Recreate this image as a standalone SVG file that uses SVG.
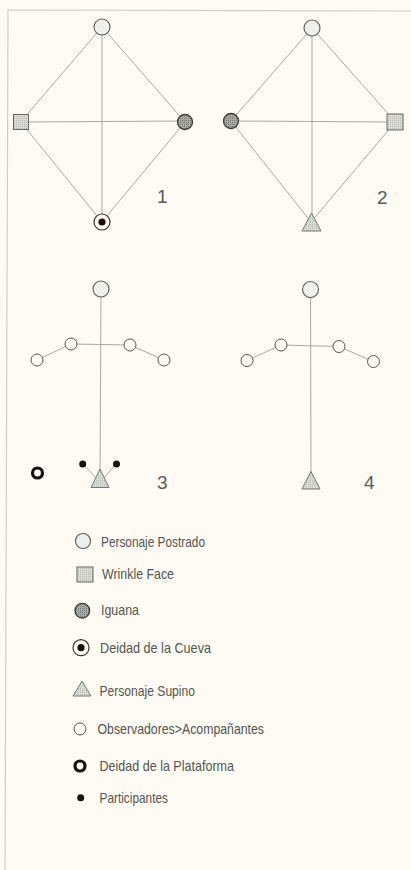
<svg xmlns="http://www.w3.org/2000/svg" width="411" height="870" viewBox="0 0 411 870">
<defs>
<pattern id="dots" width="2" height="2" patternUnits="userSpaceOnUse">
<rect width="2" height="2" fill="#dcdcd6"/>
<rect width="1" height="1" fill="#b8b8b2"/>
</pattern>
<pattern id="dotsDark" width="2" height="2" patternUnits="userSpaceOnUse">
<rect width="2" height="2" fill="#aaaaa4"/>
<rect width="1" height="1" fill="#7a7a76"/>
</pattern>
</defs>
<style>
.ln{stroke:#a9a9a4;stroke-width:1;fill:none}
.frame{stroke:#cfcfca;stroke-width:1.2;fill:none}
.post{fill:#efefeb;stroke:#5a5a58;stroke-width:1.1}
.sq{fill:url(#dots);stroke:#666;stroke-width:1}
.ig{fill:url(#dotsDark);stroke:#3a3a38;stroke-width:1.3}
.cue{fill:#fdfbf3;stroke:#333;stroke-width:1.2}
.cuedot{fill:#1a1010}
.tri{fill:url(#dots);stroke:#777;stroke-width:1}
.obs{fill:#fdfbf3;stroke:#555;stroke-width:1}
.plat{fill:none;stroke:#1a1210;stroke-width:3.2}
.part{fill:#1a1210}
.num{font-family:"Liberation Sans",Arial,sans-serif;font-size:19px;fill:#5a5a58;font-weight:normal}
.lg{font-family:"Liberation Sans",Arial,sans-serif;font-size:14.5px;fill:#555553}
</style>
<rect width="411" height="870" fill="#fdfbf3"/>
<path class="frame" d="M411 11 L8 10 L5 870"/>

<g id="connectors">
<line class="ln" x1="102" y1="27" x2="24" y2="118"/>
<line class="ln" x1="102" y1="27" x2="185" y2="122"/>
<line class="ln" x1="24" y1="126" x2="102" y2="222"/>
<line class="ln" x1="185" y1="122" x2="102" y2="222"/>
<line class="ln" x1="102" y1="27" x2="102" y2="222"/>
<line class="ln" x1="21" y1="122" x2="185" y2="121"/>
<line class="ln" x1="312" y1="28" x2="231" y2="121"/>
<line class="ln" x1="312" y1="28" x2="392" y2="118"/>
<line class="ln" x1="231" y1="121" x2="311" y2="222"/>
<line class="ln" x1="392" y1="126" x2="311" y2="222"/>
<line class="ln" x1="312" y1="28" x2="312" y2="222"/>
<line class="ln" x1="231" y1="121" x2="395" y2="122"/>
<line class="ln" x1="101" y1="289" x2="100" y2="480"/>
<line class="ln" x1="71" y1="344" x2="130" y2="345"/>
<line class="ln" x1="71" y1="344" x2="37" y2="360"/>
<line class="ln" x1="130" y1="345" x2="164" y2="360"/>
<line class="ln" x1="83" y1="464" x2="96" y2="478"/>
<line class="ln" x1="116" y1="464" x2="104" y2="478"/>
<line class="ln" x1="310.5" y1="290" x2="311" y2="480"/>
<line class="ln" x1="281" y1="345" x2="339" y2="346.5"/>
<line class="ln" x1="281" y1="345" x2="247" y2="360.5"/>
<line class="ln" x1="339" y1="346.5" x2="373" y2="361.5"/>
</g>

<g id="d1-top"><circle class="post" cx="102" cy="27" r="8"/></g>
<g id="d1-wrinkle"><rect class="sq" x="13.5" y="114.5" width="15" height="15"/></g>
<g id="d1-iguana"><circle class="ig" cx="185" cy="122" r="7.5"/></g>
<g id="d1-cueva"><circle class="cue" cx="102" cy="222" r="8"/><circle class="cuedot" cx="102" cy="222" r="3.6"/></g>
<g id="label1"><text class="num" x="157" y="203">1</text></g>

<g id="d2-top"><circle class="post" cx="312" cy="28" r="8"/></g>
<g id="d2-iguana"><circle class="ig" cx="231" cy="121" r="7.5"/></g>
<g id="d2-wrinkle"><rect class="sq" x="387" y="114" width="16" height="16"/></g>
<g id="d2-supino"><polygon class="tri" points="311.5,213 302,231 321,231"/></g>
<g id="label2"><text class="num" x="377" y="204">2</text></g>

<g id="d3-top"><circle class="post" cx="101" cy="289" r="8"/></g>
<g id="d3-obs1"><circle class="obs" cx="71" cy="344" r="6"/></g>
<g id="d3-obs2"><circle class="obs" cx="130" cy="345" r="6"/></g>
<g id="d3-obs3"><circle class="obs" cx="37" cy="360" r="6"/></g>
<g id="d3-obs4"><circle class="obs" cx="164" cy="360" r="6"/></g>
<g id="d3-supino"><polygon class="tri" points="100,469 91,487.5 109,487.5"/></g>
<g id="d3-part1"><circle class="part" cx="82.7" cy="464" r="3.5"/></g>
<g id="d3-part2"><circle class="part" cx="116.5" cy="464" r="3.5"/></g>
<g id="d3-plataforma"><circle class="plat" cx="37.5" cy="473" r="5"/></g>
<g id="label3"><text class="num" x="157" y="488.5">3</text></g>

<g id="d4-top"><circle class="post" cx="310.5" cy="289.5" r="8"/></g>
<g id="d4-obs1"><circle class="obs" cx="281" cy="345" r="6"/></g>
<g id="d4-obs2"><circle class="obs" cx="339" cy="346.5" r="6"/></g>
<g id="d4-obs3"><circle class="obs" cx="247" cy="360.5" r="6"/></g>
<g id="d4-obs4"><circle class="obs" cx="373.5" cy="361.5" r="6"/></g>
<g id="d4-supino"><polygon class="tri" points="311,471.5 302,489 320,489"/></g>
<g id="label4"><text class="num" x="364" y="488.5">4</text></g>

<g id="legend">
<g id="lg-postrado"><circle class="post" cx="83" cy="541" r="7.5"/><text class="lg" x="101" y="547" textLength="104" lengthAdjust="spacingAndGlyphs">Personaje Postrado</text></g>
<g id="lg-wrinkle"><rect class="sq" x="77" y="567" width="16" height="15"/><text class="lg" x="102" y="578.5" textLength="72" lengthAdjust="spacingAndGlyphs">Wrinkle Face</text></g>
<g id="lg-iguana"><circle class="ig" cx="82.3" cy="610.7" r="7.3"/><text class="lg" x="101" y="615" textLength="38" lengthAdjust="spacingAndGlyphs">Iguana</text></g>
<g id="lg-cueva"><circle class="cue" cx="81" cy="647.7" r="8"/><circle class="cuedot" cx="81" cy="647.7" r="3.6"/><text class="lg" x="100" y="652.5" textLength="111" lengthAdjust="spacingAndGlyphs">Deidad de la Cueva</text></g>
<g id="lg-supino"><polygon class="tri" points="82,681 73,696 91,696"/><text class="lg" x="99.5" y="696" textLength="95.5" lengthAdjust="spacingAndGlyphs">Personaje Supino</text></g>
<g id="lg-obs"><circle class="obs" cx="80" cy="729" r="6"/><text class="lg" x="97.5" y="733.5" textLength="166.5" lengthAdjust="spacingAndGlyphs">Observadores&gt;Acompañantes</text></g>
<g id="lg-plat"><circle class="plat" cx="80" cy="766" r="5"/><text class="lg" x="99.5" y="770.5" textLength="134.5" lengthAdjust="spacingAndGlyphs">Deidad de la Plataforma</text></g>
<g id="lg-part"><circle class="part" cx="80.7" cy="797.7" r="3.5"/><text class="lg" x="99.5" y="803" textLength="68.5" lengthAdjust="spacingAndGlyphs">Participantes</text></g>
</g>
</svg>
